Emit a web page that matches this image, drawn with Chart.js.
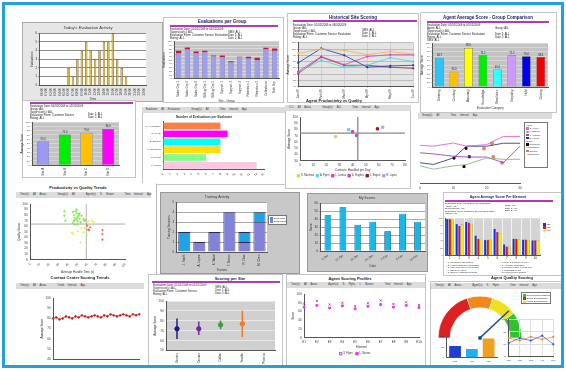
<!DOCTYPE html>
<html>
<head>
<meta charset="utf-8">
<script src="https://cdn.jsdelivr.net/npm/chart.js@4.4.0/dist/chart.umd.min.js"></script>
<style>
  body { margin:0; width:566px; height:371px; background:#fff; position:relative; overflow:hidden; font-family:'Liberation Sans', Arial, sans-serif; }
  .p { position:absolute; background:#fff; border:1px solid #c4c4c4; box-sizing:border-box; }
  .t { position:absolute; font-size:4.5px; font-weight:bold; color:#1a1a66; white-space:nowrap; transform:translateX(-50%); }
  .pb { position:absolute; height:2px; background:#b03cb0; }
  .tx { position:absolute; font-size:2.8px; line-height:2.9px; color:#222; white-space:nowrap; }
  .gs { position:absolute; background:#dcdcdc; font-size:2.6px; color:#333; white-space:nowrap; line-height:6px; padding-left:4px; box-sizing:border-box; word-spacing:3px; }
  .lg { position:absolute; background:#fff; border:0.5px solid #777; font-size:2.4px; line-height:3.2px; padding:1px; box-sizing:border-box; white-space:nowrap; color:#222; }
  .lg i { display:inline-block; width:2.5px; height:2.5px; margin-right:1px; vertical-align:middle; }
  canvas { position:absolute; }
  #frame { position:absolute; left:2px; top:2px; width:562px; height:366px; border:3px solid #1fa3d8; box-sizing:border-box; }
</style>
</head>
<body>

<!-- Today's evaluation activity -->
<div class="p" style="left:22px;top:22px;width:141px;height:80px;background:#e6e6e6;border-color:#aaa"></div>
<canvas id="c1" width="141" height="80" style="left:22px;top:22px"></canvas>

<!-- Evaluations per group -->
<div class="p" style="left:163px;top:17px;width:121px;height:86px"></div>
<div class="t" style="left:222px;top:19px">Evaluations per Group</div>
<div class="pb" style="left:170px;top:25px;width:108px"></div>
<div class="tx" style="left:170px;top:28px">Evaluation Date: 01/01/2009 to 01/31/2009<br>Supervisor(s): ALL<br>Evaluation Form: Customer Service Evaluation<br>Rating: ALL</div>
<div class="tx" style="left:228px;top:31px">SMS: ALL<br>Date 1: ALL<br>Date 2: ALL</div>
<canvas id="c2" width="123" height="64" style="left:160px;top:39px"></canvas>

<!-- Historical site scoring -->
<div class="p" style="left:287px;top:13px;width:132px;height:90px"></div>
<div class="t" style="left:353px;top:15px">Historical Site Scoring</div>
<div class="pb" style="left:293px;top:20px;width:124px"></div>
<div class="tx" style="left:293px;top:24px">Evaluation Date: 01/01/2009 to 06/30/2009<br>Group: ALL<br>Supervisor(s): ALL<br>Evaluation Form: Customer Service Evaluation<br>Rating: ALL</div>
<div class="tx" style="left:362px;top:29px">SMS: ALL<br>Date 1: ALL<br>Date 2: ALL</div>
<canvas id="c3" width="133" height="62" style="left:285px;top:38px"></canvas>

<!-- Agent average score - group comparison -->
<div class="p" style="left:420px;top:12px;width:137px;height:101px"></div>
<div class="t" style="left:488px;top:15px">Agent Average Score - Group Comparison</div>
<div class="pb" style="left:427px;top:21px;width:122px"></div>
<div class="tx" style="left:427px;top:24px">Evaluation Date: 01/01/2009 to 01/31/2009<br>Agent: ALL<br>Supervisor(s): ALL<br>Evaluation Form: Customer Service Evaluation<br>Rating: ALL<br>SMS: ALL</div>
<div class="tx" style="left:495px;top:27px">Group: ALL<br><br>Date 1: ALL<br>Date 2: ALL</div>
<canvas id="c4" width="136" height="70" style="left:418px;top:40px"></canvas>

<!-- Four bar score panel -->
<div class="p" style="left:22px;top:100px;width:114px;height:78px"></div>
<div class="pb" style="left:30px;top:102px;width:103px"></div>
<div class="tx" style="left:30px;top:105px">Evaluation Date: 01/01/2009 to 01/31/2009<br>Group: ALL<br>Supervisor(s): ALL<br>Evaluation Form: Customer Service<br>Rating: ALL</div>
<div class="tx" style="left:88px;top:113px">Date 1: ALL<br>Date 2: ALL</div>
<canvas id="c5" width="116" height="58" style="left:18px;top:119px"></canvas>

<!-- Evaluations per evaluator -->
<div class="p" style="left:142px;top:107px;width:145px;height:78px"></div>
<div class="gs" style="left:142px;top:107px;width:145px;height:6px">Evaluator: All&nbsp;Evaluators &nbsp; Group(s): All &nbsp; Time&nbsp;Interval: Ago</div>
<canvas id="c6" width="143" height="71" style="left:143px;top:113px"></canvas>

<!-- Agent productivity vs quality -->
<div class="t" style="left:334px;top:98px;color:#222;font-size:4px">Agent Productivity vs Quality</div>
<div class="p" style="left:285px;top:105px;width:126px;height:84px"></div>
<div class="gs" style="left:285px;top:105px;width:126px;height:6px">C.C. All Areas &nbsp; Group(s): ALL &nbsp; Time&nbsp;Interval: Ago</div>
<canvas id="c7" width="124" height="77" style="left:286px;top:111px"></canvas>

<!-- Agent score trend with events -->
<div class="p" style="left:418px;top:113px;width:135px;height:78px;border-color:#fff"></div>
<div class="gs" style="left:418px;top:113px;width:134px;height:6px">Group(s): All &nbsp; Time&nbsp;Interval: Ago</div>
<canvas id="c8" width="110" height="72" style="left:415px;top:119px"></canvas>
<div class="lg" style="left:524px;top:122px;width:24px;height:46px">
  Agent<br><i style="background:#e060e0"></i>S. Flynn<br><i style="background:#80c080"></i>L. Barnes<br><i style="background:#9a48c8"></i>L. Hanson<br><i style="background:#303070"></i>D. Harris<br>Event<br><i style="background:#000"></i>Coaching<br>&nbsp;&nbsp;Completed<br><i style="background:#f07838"></i>Review<br>&nbsp;&nbsp;Completed
</div>

<!-- Productivity vs quality trends -->
<div class="p" style="left:15px;top:183px;width:142px;height:95px;border-color:#fff;border-right-color:#bbb"></div>
<div class="t" style="left:78px;top:185px;color:#222;font-size:4px">Productivity vs Quality Trends</div>
<div class="gs" style="left:16px;top:192px;width:135px;height:6px">Time(s): All Areas &nbsp; Group(s): All &nbsp; Agent(s): S. Brown &nbsp; Time Interval: Ago</div>
<canvas id="c9" width="114" height="76" style="left:16px;top:199px"></canvas>

<!-- Training activity -->
<div class="p" style="left:160px;top:192px;width:140px;height:82px;background:#c8c8c8;border-color:#999"></div>
<canvas id="c10" width="126" height="80" style="left:161px;top:193px"></canvas>
<div class="lg" style="left:268px;top:215px;width:19px;height:10px"><i style="background:#1ea4e6"></i>Completed<br><i style="background:#8282d8"></i>Outstanding</div>

<!-- My scores -->
<div class="p" style="left:307px;top:193px;width:121px;height:79px;background:#c8c8c8;border-color:#999"></div>
<canvas id="c11" width="119" height="77" style="left:308px;top:194px"></canvas>

<!-- Agent average score per element -->
<div class="p" style="left:443px;top:192px;width:119px;height:84px"></div>
<div class="t" style="left:498px;top:195px;font-size:3.5px">Agent Average Score Per Element</div>
<div class="pb" style="left:445px;top:200px;width:108px"></div>
<div class="tx" style="left:445px;top:203px;font-size:2.4px;line-height:2.5px">Evaluation Date: 01/01/2009 to 01/31/2009<br>Agent: ALL<br>Supervisor(s): ALL<br>Evaluation Form: Customer Service Evaluation<br>Rating: ALL</div>
<div class="tx" style="left:505px;top:205px;font-size:2.4px;line-height:2.5px">SMS: ALL<br>Date 1: ALL<br>Date 2: ALL</div>
<canvas id="c12" width="104" height="46" style="left:437px;top:216px"></canvas>
<div class="lg" style="left:541px;top:221px;width:10px;height:11px;border-color:#fff"><i style="background:#0a32f0"></i>Jan<br><i style="background:#f01010"></i>Feb<br><i style="background:#f8f000"></i>Mar</div>
<div class="tx" style="left:446px;top:261px;font-size:2.2px;line-height:2.6px">□ 1. Greeting &amp; Introduction<br>□ 2. Verified Customer Information<br>□ 3. Used Correct Hold Procedure<br>□ 4. Listened Actively<br>□ 5. Offered Additional Products</div>
<div class="tx" style="left:500px;top:261px;font-size:2.2px;line-height:2.6px">□ 6. Tone &amp; Courtesy of Voice<br>□ 7. Accurate Information<br>□ 8. Resolved Issue on First Call<br>□ 9. Summarised Call<br>□ 10. Used Proper Closing</div>

<!-- Contact center scoring trends -->
<div class="t" style="left:80px;top:275px;color:#222;font-size:4px">Contact Center Scoring Trends</div>
<div class="p" style="left:15px;top:281px;width:130px;height:84px;border-color:#fff"></div>
<div class="gs" style="left:16px;top:283px;width:128px;height:6px">Time(s): All Areas &nbsp; Trend Interval: Ago</div>
<canvas id="c13" width="128" height="74" style="left:16px;top:290px"></canvas>

<!-- Scoring per site -->
<div class="p" style="left:148px;top:274px;width:135px;height:93px"></div>
<div class="t" style="left:230px;top:276px;font-size:4px">Scoring per Site</div>
<div class="pb" style="left:152px;top:281px;width:128px"></div>
<div class="tx" style="left:153px;top:284px">Evaluation Date: 01/01/2009 to 01/31/2009<br>Supervisor(s): ALL<br>Evaluation Form: Customer Service<br>Rating: ALL</div>
<div class="tx" style="left:215px;top:286px">SMS: ALL<br>Date 1: ALL<br>Date 2: ALL</div>
<canvas id="c14" width="132" height="70" style="left:149px;top:296px"></canvas>

<!-- Agent scoring profiles -->
<div class="p" style="left:286px;top:274px;width:140px;height:93px"></div>
<div class="t" style="left:350px;top:276px;color:#222;font-size:4px">Agent Scoring Profiles</div>
<div class="gs" style="left:287px;top:282px;width:138px;height:6px">Time(s): All Areas &nbsp; Agent(s): S. Flynn, L. Barnes &nbsp; Time Interval: Ago</div>
<canvas id="c15" width="138" height="77" style="left:287px;top:289px"></canvas>

<!-- Agent quality scoring -->
<div class="t" style="left:512px;top:275px;color:#222;font-size:4px">Agent Quality Scoring</div>
<div class="p" style="left:430px;top:281px;width:133px;height:86px"></div>
<div class="gs" style="left:431px;top:283px;width:131px;height:6px">Time(s): All Areas &nbsp; Agent(s): S. Flynn &nbsp; Time Interval: Ago</div>
<canvas id="c16" width="84" height="52" style="left:438px;top:291px"></canvas>
<div class="lg" style="left:521px;top:292px;width:30px;height:12px"><i style="background:#30c030"></i>Exceeds Expectations<br><i style="background:#e02020"></i>Below Expectations<br><i style="background:#f0e020"></i>Meets Expectations</div>
<canvas id="c17" width="62" height="30" style="left:437px;top:334px"></canvas>
<canvas id="c18" width="58" height="48" style="left:500px;top:315px"></canvas>

<div id="frame"></div>

<script>
// ---------- data ----------
const hourLabels = ['00:00','01:00','02:00','03:00','04:00','05:00','06:00','07:00','08:00','09:00','10:00','11:00',
  '12:00','13:00','14:00','15:00','16:00','17:00','18:00','19:00','20:00','21:00','22:00','23:00'];
const evalCounts = [0,0,0,0,0,0,2,1,3,4,5,4,3,4,5,5,6,3,2,1,0,0,0,0];

const groupNames = ['Sales Grp 1','Sales Grp 2','Sales Grp 3','Billing Grp 1','Billing Grp 2','Support 1',
  'Support 2','Support 3','Retention 1','Retention 2','Collections','Tech Grp'];
const groupBase = [69,79,69,71,60,58,44,58,55,50,80,75];
const groupTop  = [6,5,4,4,2,4,3,1,4,6,3,6];

const months = ['Jan-09','Feb-09','Mar-09','Apr-09','May-09','Jun-09'];
const siteNorth = [93,100,98,91,96,92];
const siteSouth = [78,101,90,71,73,74];
const siteEast  = [64,88,75,88,91,91];
const siteWest  = [63,82,71,74,86,80];
const siteCentral = [61,87,74,74,71,69];

const categories = ['Greeting','Courtesy','Accuracy','Knowledge','Resolution','Empathy','Hold','Closing'];
const categoryScores = [66.7,35.0,88.9,72.2,40.0,72.2,70.0,68.0];
const categoryColors = ['#2ec4f4','#ffc000','#ffff00','#00ee00','#33ffff','#cc99ff','#0000ee','#ee0000'];

const quarterLabels = ['Site A','Site B','Site C','Site D'];
const quarterScores = [55.0,71.0,75.0,84.0];
const quarterColors = ['#9a9af4','#00ee00','#ffc000','#ff00ff'];

const evaluators = ['M. Hernandez','S. Flynn','B. Barnes','L. Stephens','T. Dorkin','L. Jones'];
const evaluatorCounts = [8,9,8,8,6,13];
const evaluatorColors = ['#ff7f40','#ff00ff','#00ffff','#ffe000','#80ff80','#ffc4e0'];

const agents = ['S. Martinez','A. Flynn','L. Lomax','D. Hughes','L. Engels','R. Lopez'];
const agentHandle = [27,37,40,43,59,63];
const agentQuality = [68.5,79.6,76.5,70.3,81,83.6];
const agentColors = ['#c8dc50','#60d0f0','#e03ca0','#c050c0','#a01030','#b8a0f0'];

const trendX = [0,4,10,14,20,25,30];
const flynn  = [65.6,64,69.4,64,66.7,80.6,80.6];
const barnes = [30.6,25,30.6,33,44,41.7,41.7];
const hanson = [52.8,51,47,45.6,45.6,36,64];
const harris = [36,33,44,64,64,69,69];
const coachX = [10.2,13.8,14.8,13.2];
const coachY = [43.9,60.6,46,29.4];
const reviewX = [19.2,21.6,22,24.6];
const reviewY = [60,68.9,46,36];

const greenPts = [[36,87],[36,79],[37,70],[45,86],[46,80],[47,75],[47,71],[49,90],[49,83],[50,77],[50,69],[45,66],
  [47,63],[50,64],[52,74],[53,67],[56,73],[57,70],[58,71],[54,79],[52,83],[48,87],[46,70],[49,73],[51,80]];
const yellowPts = [[44,49],[45,46],[54,57],[56,49],[50,51],[61,69],[65,70],[67,67],[60,43],[53,31],[57,57],[63,63]];
const redPts = [[60,61],[61,54],[62,53],[76,53],[76,46],[76,36],[63,58]];

const trainees = ['J. Smith','A. Lopez','K. Ward','T. Brown','R. Diaz','M. Chen'];
const trainCompleted = [0,1,2,4,1,3];
const trainOutstanding = [2,0,0,0,1,1];

const scoreDates = ['5-Jan','12-Jan','19-Jan','26-Jan','2-Feb','9-Feb','16-Feb'];
const myScores = [45,55,33,37,25,47,37];

const elements = ['1','2','3','4','5','6','7','8','9','10'];
const elemJan = [98,85,91,54,42,72,30,45,43,41];
const elemFeb = [98,80,89,45,42,63,24,45,43,41];
const elemMar = [96,83,85,45,43,59,26,43,41,41];

const weekLabels = ['W1','W2','W3','W4','W5','W6','W7','W8','W9','W10','W11','W12','W13','W14','W15',
  'W16','W17','W18','W19','W20','W21','W22','W23','W24','W25','W26','W27','W28'];
const centerScores = [80,81,79,80,82,81,80,82,81,83,82,81,82,83,82,81,83,82,84,83,82,83,84,83,82,84,83,84];

const sites = ['Boston','Denver','Dallas','Seattle','Phoenix'];
const siteMean = [72,72,76,77,null];
const siteLow  = [62,66,72,64,null];
const siteHigh = [82,79,80,90,null];
const siteColors = ['#1a1a80','#6a2ca0','#3c9c3c','#f07820','#999'];

const profileElems = ['E1','E2','E3','E4','E5','E6','E7','E8','E9','E10'];
const profileFlynn  = [78,84,76,80,72,79,85,77,81,75];
const profileBarnes = [70,74,68,73,66,72,76,70,74,69];

const gaugeBands = [40,20,20,20];
const gaugeColors = ['#e02020','#f08a20','#f0e020','#30c030'];
const gaugeValue = 76;

const qualityLabels = ['Jan','Feb','Mar'];
const qualityScores = [55,40,90];
const qualityColors = ['#1f3fd0','#20b0f0','#f0a020'];

const qualityMonths = ['Jan','Feb','Mar','Apr','May'];
const qualityAgent = [62,70,66,74,60];
const qualityTeam  = [70,66,72,68,72];

// ---------- chart setup ----------
Chart.defaults.font.family = "'Liberation Sans', Arial, sans-serif";
Chart.defaults.font.size = 3;
Chart.defaults.color = '#333';
Chart.defaults.animation = false;
Chart.defaults.responsive = false;
Chart.defaults.devicePixelRatio = 1;
Chart.defaults.plugins.legend.display = false;
Chart.defaults.plugins.tooltip.enabled = false;
Chart.defaults.elements.point.radius = 0;
Chart.defaults.elements.line.borderWidth = 1;

const plotBg = {
  id: 'plotBg',
  beforeDraw(chart, args, opts) {
    if (!opts.color) return;
    const { ctx, chartArea: a } = chart;
    ctx.save();
    ctx.fillStyle = opts.color;
    ctx.fillRect(a.left, a.top, a.width, a.height);
    ctx.restore();
  }
};

const crossLines = {
  id: 'crossLines',
  beforeDatasetsDraw(chart, args, opts) {
    if (opts.x === undefined) return;
    const { ctx, chartArea: a, scales } = chart;
    const x = scales.x.getPixelForValue(opts.x);
    const y = scales.y.getPixelForValue(opts.y);
    ctx.save();
    ctx.strokeStyle = opts.color || '#999';
    ctx.lineWidth = opts.width || 1;
    ctx.beginPath();
    ctx.moveTo(x, a.top); ctx.lineTo(x, a.bottom);
    ctx.moveTo(a.left, y); ctx.lineTo(a.right, y);
    ctx.stroke();
    ctx.restore();
  }
};

const barLabels = {
  id: 'barLabels',
  afterDatasetsDraw(chart, args, opts) {
    if (!opts.show) return;
    const { ctx } = chart;
    ctx.save();
    ctx.font = "2.6px 'Liberation Sans'";
    ctx.fillStyle = '#222';
    ctx.textAlign = 'center';
    chart.data.datasets.forEach((ds, i) => {
      chart.getDatasetMeta(i).data.forEach((bar, j) => {
        ctx.fillText(ds.data[j].toFixed(1), bar.x, bar.y - 1.5);
      });
    });
    ctx.restore();
  }
};

const needle = {
  id: 'needle',
  afterDatasetsDraw(chart, args, opts) {
    if (opts.value === undefined) return;
    const arc = chart.getDatasetMeta(0).data[0];
    const { ctx } = chart;
    const ang = Math.PI + opts.value / 100 * Math.PI;
    const len = arc.outerRadius * 0.95;
    ctx.save();
    ctx.strokeStyle = '#2050a0';
    ctx.lineWidth = 1.5;
    ctx.beginPath();
    ctx.moveTo(arc.x, arc.y);
    ctx.lineTo(arc.x + Math.cos(ang) * len, arc.y + Math.sin(ang) * len);
    ctx.stroke();
    ctx.fillStyle = '#2050a0';
    ctx.beginPath(); ctx.arc(arc.x, arc.y, 2, 0, Math.PI * 2); ctx.fill();
    ctx.restore();
  }
};

Chart.register(plotBg, crossLines, barLabels, needle);

function ax(o = {}) {
  const base = {
    ticks: { font: { size: 3 }, color: '#333', padding: 1, autoSkip: false },
    grid: { tickLength: 1.5, color: '#999' },
    border: { color: '#555' }
  };
  for (const k in o) {
    if (o[k] && typeof o[k] === 'object' && !Array.isArray(o[k]) && base[k]) Object.assign(base[k], o[k]);
    else base[k] = o[k];
  }
  return base;
}
const axt = (text) => ({ display: true, text: text, font: { size: 3 }, padding: 0.5 });
const ttl = (text, size, weight) => ({ display: true, text: text, font: { size: size, weight: weight || 'normal' },
  color: '#333', padding: { top: 2, bottom: 3 } });
const rot = { maxRotation: 90, minRotation: 90 };

// today's evaluation activity
new Chart(document.getElementById('c1'), {
  type: 'bar',
  data: { labels: hourLabels, datasets: [{ data: evalCounts, backgroundColor: '#d8b43c', borderColor: '#6e5410',
    borderWidth: 0.7, barPercentage: 0.55, categoryPercentage: 1 }] },
  options: {
    layout: { padding: { left: 8, right: 17, top: 1, bottom: 1 } },
    plugins: { title: ttl("Today's Evaluation Activity", 4.2), plotBg: { color: '#fff' } },
    scales: {
      x: ax({ ticks: rot, grid: { display: false }, title: axt('Time') }),
      y: ax({ min: 0, max: 6, ticks: { stepSize: 1 }, grid: { color: '#8c8c8c' }, title: axt('Evaluations') })
    }
  }
});

// evaluations per group
new Chart(document.getElementById('c2'), {
  type: 'bar',
  data: { labels: groupNames, datasets: [
    { data: groupBase, backgroundColor: '#9d9df2', borderColor: '#6060a8', borderWidth: 0.5, barPercentage: 0.6, categoryPercentage: 1 },
    { data: groupTop, backgroundColor: '#c01c34', barPercentage: 0.6, categoryPercentage: 1 }
  ] },
  options: {
    layout: { padding: { left: 2, right: 4, top: 2, bottom: 0 } },
    plugins: { plotBg: { color: '#c4c4c4' } },
    scales: {
      x: ax({ stacked: true, ticks: rot, grid: { display: false }, title: axt('Site - Group') }),
      y: ax({ stacked: true, min: 0, max: 100, ticks: { stepSize: 10, font: { size: 2.5 } }, grid: { color: '#dadada' }, title: axt('Evaluations') })
    }
  }
});

// historical site scoring
const siteLine = (d, c) => ({ data: d, borderColor: c, backgroundColor: c, pointRadius: 0.8, borderWidth: 0.8 });
new Chart(document.getElementById('c3'), {
  type: 'line',
  data: { labels: months, datasets: [
    siteLine(siteNorth, '#e8b848'), siteLine(siteSouth, '#3434a0'), siteLine(siteEast, '#e040b0'),
    siteLine(siteWest, '#50d4d4'), siteLine(siteCentral, '#8a3458')
  ] },
  options: {
    layout: { padding: { left: 1, right: 2, top: 2, bottom: 0 } },
    plugins: { plotBg: { color: '#e4e4e4' } },
    scales: {
      x: ax({ ticks: rot, grid: { color: '#cfcfcf' } }),
      y: ax({ min: 40, max: 110, ticks: { stepSize: 10, font: { size: 2.5 } }, grid: { color: '#bdbdbd' }, title: axt('Average Score') })
    }
  }
});

// agent average score - group comparison
new Chart(document.getElementById('c4'), {
  type: 'bar',
  data: { labels: categories, datasets: [{ data: categoryScores, backgroundColor: categoryColors, borderColor: '#444',
    borderWidth: 0.5, barPercentage: 0.6, categoryPercentage: 1 }] },
  options: {
    layout: { padding: { left: 2, right: 6, top: 3, bottom: 0 } },
    plugins: { plotBg: { color: '#c4c4c4' }, barLabels: { show: true } },
    scales: {
      x: ax({ ticks: rot, grid: { display: false }, title: axt('Evaluation Category') }),
      y: ax({ min: 0, max: 100, ticks: { stepSize: 10, font: { size: 2.5 } }, grid: { color: '#d6d6d6' }, title: axt('Average Score') })
    }
  }
});

// four bar panel
new Chart(document.getElementById('c5'), {
  type: 'bar',
  data: { labels: quarterLabels, datasets: [{ data: quarterScores, backgroundColor: quarterColors, borderColor: '#444',
    borderWidth: 0.5, barPercentage: 0.55, categoryPercentage: 1 }] },
  options: {
    layout: { padding: { left: 2, right: 15, top: 3, bottom: 0 } },
    plugins: { plotBg: { color: '#c4c4c4' }, barLabels: { show: true } },
    scales: {
      x: ax({ ticks: rot, grid: { display: false } }),
      y: ax({ min: 0, max: 100, ticks: { stepSize: 10, font: { size: 2.5 } }, grid: { color: '#d6d6d6' }, title: axt('Average Score') })
    }
  }
});

// evaluations per evaluator
new Chart(document.getElementById('c6'), {
  type: 'bar',
  data: { labels: evaluators, datasets: [{ data: evaluatorCounts, backgroundColor: evaluatorColors, borderColor: '#bbb',
    borderWidth: 0.4, barPercentage: 0.9, categoryPercentage: 1 }] },
  options: {
    indexAxis: 'y',
    layout: { padding: { left: 1, right: 22, top: 0, bottom: 6 } },
    plugins: { title: ttl('Number of Evaluations per Evaluator', 3.2, 'bold') },
    scales: {
      x: ax({ min: 0, max: 14, ticks: { stepSize: 1 }, grid: { display: false } }),
      y: ax({ ticks: { font: { size: 2.5 } }, grid: { display: false } })
    }
  }
});

// agent productivity vs quality
new Chart(document.getElementById('c7'), {
  type: 'scatter',
  data: { datasets: agents.map((a, i) => ({ label: a, data: [{ x: agentHandle[i], y: agentQuality[i] }],
    backgroundColor: agentColors[i], borderColor: agentColors[i], pointStyle: 'rect', pointRadius: 1.6 })) },
  options: {
    layout: { padding: { left: 1, right: 3, top: 6, bottom: 1 } },
    plugins: {
      crossLines: { x: 44, y: 74.3, color: '#8a8a8a', width: 1.3 },
      legend: { display: true, position: 'bottom', labels: { boxWidth: 2.5, boxHeight: 2.5, padding: 2, font: { size: 2.6 } } }
    },
    scales: {
      x: ax({ min: 0, max: 80, ticks: { stepSize: 10 }, grid: { display: false }, title: axt('Contacts Handled per Day') }),
      y: ax({ min: 30, max: 100, ticks: { stepSize: 10 }, grid: { display: false }, title: axt('Average Score') })
    }
  }
});

// agent score trend with coaching events
const trendLine = (d, c) => ({ type: 'line', data: trendX.map((x, i) => ({ x: x, y: d[i] })), borderColor: c,
  borderWidth: 0.9, pointRadius: 0, showLine: true });
new Chart(document.getElementById('c8'), {
  type: 'scatter',
  data: { datasets: [
    trendLine(flynn, '#e060e0'), trendLine(barnes, '#80c080'), trendLine(hanson, '#9a48c8'), trendLine(harris, '#404080'),
    { data: coachX.map((x, i) => ({ x: x, y: coachY[i] })), backgroundColor: '#000', borderColor: '#000', pointStyle: 'rect', pointRadius: 1.4 },
    { data: reviewX.map((x, i) => ({ x: x, y: reviewY[i] })), backgroundColor: '#f48a50', borderColor: '#d05a20', borderWidth: 0.5, pointRadius: 1.6 }
  ] },
  options: {
    layout: { padding: { left: 4, right: 4, top: 6, bottom: 0 } },
    scales: {
      x: ax({ min: 0, max: 30, ticks: { stepSize: 10 }, grid: { display: false } }),
      y: { display: false, min: 0, max: 100 }
    }
  }
});

// productivity vs quality trends
const sc = (pts, c) => ({ data: pts.map(p => ({ x: p[0], y: p[1] })), borderColor: c, backgroundColor: c,
  pointStyle: 'cross', pointRadius: 1.3, borderWidth: 0.7 });
new Chart(document.getElementById('c9'), {
  type: 'scatter',
  data: { datasets: [sc(greenPts, '#6ee030'), sc(yellowPts, '#f2e040'), sc(redPts, '#e05050')] },
  options: {
    layout: { padding: { left: 1, right: 3, top: 5, bottom: 1 } },
    plugins: { crossLines: { x: 59, y: 64, color: '#7a7a7a', width: 0.6 } },
    scales: {
      x: ax({ min: 0, max: 100, ticks: { stepSize: 10 }, grid: { display: false }, title: axt('Average Handle Time (s)') }),
      y: ax({ min: 0, max: 100, ticks: { stepSize: 10 }, grid: { display: false }, title: axt('Quality Score') })
    }
  }
});

// training activity
new Chart(document.getElementById('c10'), {
  type: 'bar',
  data: { labels: trainees, datasets: [
    { data: trainCompleted, backgroundColor: '#8282d8', borderColor: '#2a2a50', borderWidth: 0.8, barPercentage: 0.8, categoryPercentage: 1 },
    { data: trainOutstanding, backgroundColor: '#1ea4e6', borderColor: '#2a2a50', borderWidth: 0.8, barPercentage: 0.8, categoryPercentage: 1 }
  ] },
  options: {
    layout: { padding: { left: 6, right: 20, top: 0, bottom: 1 } },
    plugins: { title: ttl('Training Activity', 3.5), plotBg: { color: '#fff' } },
    scales: {
      x: ax({ stacked: true, ticks: rot, grid: { display: false }, title: axt('Trainee') }),
      y: ax({ stacked: true, min: 0, max: 5, ticks: { stepSize: 1 }, grid: { color: '#aaa' }, title: axt('Training Sessions') })
    }
  }
});

// my scores
new Chart(document.getElementById('c11'), {
  type: 'bar',
  data: { labels: scoreDates, datasets: [{ data: myScores, backgroundColor: '#14b8ea', borderColor: '#0a3a5a',
    borderWidth: 0.7, barPercentage: 0.45, categoryPercentage: 1 }] },
  options: {
    layout: { padding: { left: 1, right: 2, top: 0, bottom: 3 } },
    plugins: { title: ttl('My Scores', 3.5), plotBg: { color: '#fff' } },
    scales: {
      x: ax({ grid: { display: false }, title: axt('Date') }),
      y: ax({ min: 0, max: 60, ticks: { stepSize: 10 }, grid: { color: '#aaa' }, title: axt('Score') })
    }
  }
});

// agent average score per element
const el = (d, c) => ({ data: d, backgroundColor: c, borderColor: '#333', borderWidth: 0.3, barPercentage: 0.9, categoryPercentage: 0.85 });
new Chart(document.getElementById('c12'), {
  type: 'bar',
  data: { labels: elements, datasets: [el(elemJan, '#0a32f0'), el(elemFeb, '#f01010'), el(elemMar, '#f8f000')] },
  options: {
    layout: { padding: { left: 1, right: 1, top: 2, bottom: 1 } },
    plugins: { plotBg: { color: '#d4d4d4' } },
    scales: {
      x: ax({ grid: { color: '#f4f4f4', drawTicks: false } }),
      y: ax({ min: 0, max: 100, ticks: { stepSize: 20, font: { size: 2.2 } }, grid: { display: false } })
    }
  }
});

// contact center scoring trends
new Chart(document.getElementById('c13'), {
  type: 'line',
  data: { labels: weekLabels, datasets: [{ data: centerScores, borderColor: '#c81414', backgroundColor: '#c81414',
    pointRadius: 0.9, borderWidth: 0.7 }] },
  options: {
    layout: { padding: { left: 24, right: 4, top: 8, bottom: 2 } },
    scales: {
      x: ax({ ticks: { display: false }, grid: { display: false } }),
      y: ax({ min: 40, max: 100, ticks: { stepSize: 10 }, grid: { display: false }, title: axt('Average Score') })
    }
  }
});

// scoring per site
new Chart(document.getElementById('c14'), {
  type: 'bar',
  data: { labels: sites, datasets: [
    { type: 'line', data: siteMean, showLine: false, pointRadius: 2.2, backgroundColor: siteColors, borderColor: siteColors },
    { data: sites.map((s, i) => siteLow[i] === null ? null : [siteLow[i], siteHigh[i]]), backgroundColor: siteColors, barThickness: 0.8 }
  ] },
  options: {
    layout: { padding: { left: 4, right: 6, top: 2, bottom: 1 } },
    plugins: { plotBg: { color: '#d0d0d0' } },
    scales: {
      x: ax({ ticks: rot, grid: { display: false } }),
      y: ax({ min: 50, max: 100, ticks: { stepSize: 10 }, grid: { color: '#e8e8e8' }, title: axt('Average Score') })
    }
  }
});

// agent scoring profiles
new Chart(document.getElementById('c15'), {
  type: 'line',
  data: { labels: profileElems, datasets: [
    { label: 'S. Flynn', data: profileFlynn, showLine: false, pointStyle: 'crossRot', pointRadius: 1.5, borderColor: '#a030c0', borderWidth: 0.8 },
    { label: 'L. Barnes', data: profileBarnes, showLine: false, pointStyle: 'rect', pointRadius: 1.3, backgroundColor: '#e040e0', borderColor: '#e040e0' }
  ] },
  options: {
    layout: { padding: { left: 4, right: 6, top: 4, bottom: 1 } },
    plugins: { legend: { display: true, position: 'bottom', labels: { boxWidth: 2.5, boxHeight: 2.5, padding: 3, font: { size: 2.6 } } } },
    scales: {
      x: ax({ grid: { display: false }, title: axt('Element') }),
      y: ax({ min: 0, max: 100, ticks: { stepSize: 20 }, grid: { display: false }, title: axt('Score') })
    }
  }
});

// agent quality scoring gauge
new Chart(document.getElementById('c16'), {
  type: 'doughnut',
  data: { labels: ['Below', 'Near', 'Meets', 'Exceeds'], datasets: [{ data: gaugeBands, backgroundColor: gaugeColors,
    borderColor: '#fff', borderWidth: 0.5 }] },
  options: { rotation: -90, circumference: 180, cutout: '72%', plugins: { needle: { value: gaugeValue } } }
});

new Chart(document.getElementById('c17'), {
  type: 'bar',
  data: { labels: qualityLabels, datasets: [{ data: qualityScores, backgroundColor: qualityColors, barPercentage: 0.7, categoryPercentage: 1 }] },
  options: {
    layout: { padding: { left: 2, right: 2, top: 1, bottom: 0 } },
    scales: {
      x: ax({ ticks: { font: { size: 2.5 } }, grid: { display: false } }),
      y: ax({ min: 0, max: 100, ticks: { stepSize: 50, font: { size: 2.5 } }, grid: { display: false } })
    }
  }
});

new Chart(document.getElementById('c18'), {
  type: 'line',
  data: { labels: qualityMonths, datasets: [
    { data: qualityAgent, borderColor: '#3050d0', backgroundColor: '#3050d0', pointRadius: 0.8, borderWidth: 0.7 },
    { data: qualityTeam, borderColor: '#f08a30', backgroundColor: '#f08a30', pointRadius: 0.8, borderWidth: 0.7 }
  ] },
  options: {
    layout: { padding: { left: 1, right: 2, top: 2, bottom: 0 } },
    scales: {
      x: ax({ ticks: { font: { size: 2.5 } }, grid: { color: '#ddd' } }),
      y: ax({ min: 40, max: 100, ticks: { stepSize: 20, font: { size: 2.5 } }, grid: { color: '#ddd' } })
    }
  }
});
</script>
</body>
</html>
